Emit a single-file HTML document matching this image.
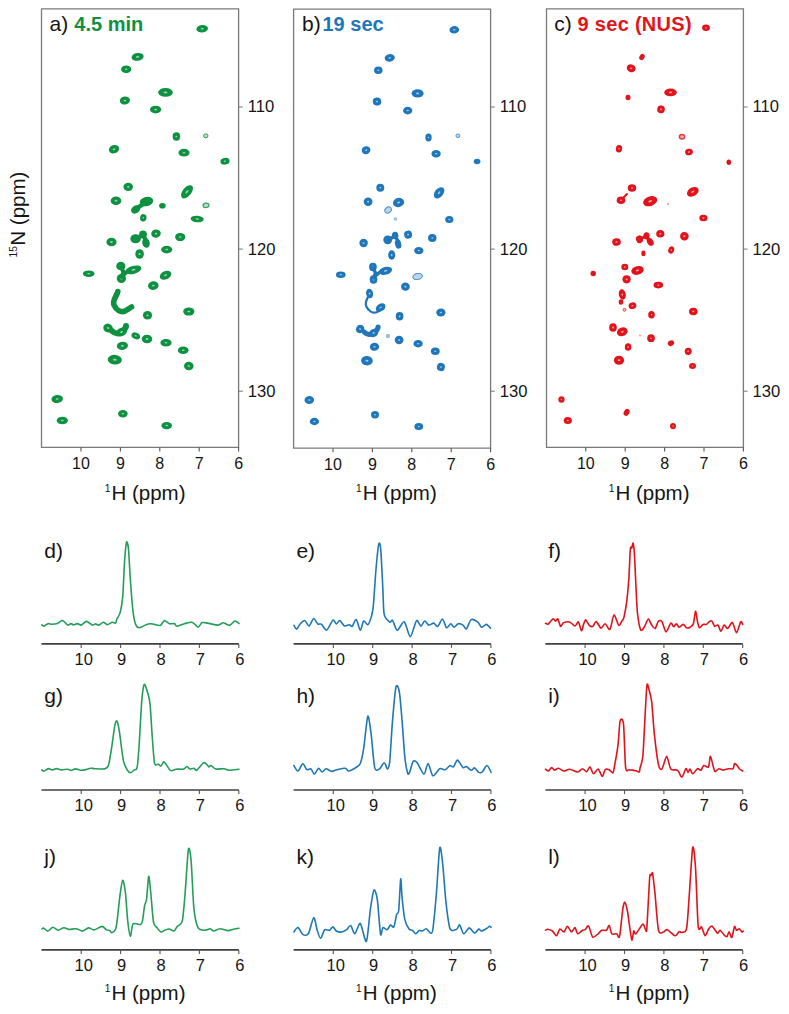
<!DOCTYPE html>
<html><head><meta charset="utf-8"><title>NMR figure</title>
<style>
html,body{margin:0;padding:0;background:#fff;}
body{width:789px;height:1014px;overflow:hidden;}
svg{display:block;font-family:"Liberation Sans", sans-serif;}

</style></head><body>
<svg width="789" height="1014" viewBox="0 0 789 1014">
<rect width="789" height="1014" fill="#fff"/>
<g fill="#151515">
<g>
<ellipse cx="202.2" cy="28.8" rx="5.80" ry="3.80" transform="rotate(-5 202.2 28.8)" fill="#0e9140"/>
<ellipse cx="202.2" cy="28.8" rx="1.54" ry="0.77" transform="rotate(-5 202.2 28.8)" fill="#fff" fill-opacity="0.6"/>
<ellipse cx="137.6" cy="56.9" rx="6.10" ry="3.90" transform="rotate(-8 137.6 56.9)" fill="#0e9140"/>
<ellipse cx="137.6" cy="56.9" rx="1.62" ry="0.79" transform="rotate(-8 137.6 56.9)" fill="#fff" fill-opacity="0.6"/>
<ellipse cx="126.2" cy="69.3" rx="5.10" ry="3.90" transform="rotate(0 126.2 69.3)" fill="#0e9140"/>
<ellipse cx="126.2" cy="69.3" rx="1.34" ry="0.79" transform="rotate(0 126.2 69.3)" fill="#fff" fill-opacity="0.6"/>
<ellipse cx="165.5" cy="92.4" rx="7.30" ry="4.30" transform="rotate(0 165.5 92.4)" fill="#0e9140"/>
<ellipse cx="165.5" cy="92.4" rx="1.96" ry="0.88" transform="rotate(0 165.5 92.4)" fill="#fff" fill-opacity="0.6"/>
<ellipse cx="124.9" cy="100.5" rx="5.10" ry="4.10" transform="rotate(-5 124.9 100.5)" fill="#0e9140"/>
<ellipse cx="124.9" cy="100.5" rx="1.34" ry="0.84" transform="rotate(-5 124.9 100.5)" fill="#fff" fill-opacity="0.6"/>
<ellipse cx="155.6" cy="109.6" rx="5.60" ry="3.90" transform="rotate(0 155.6 109.6)" fill="#0e9140"/>
<ellipse cx="155.6" cy="109.6" rx="1.48" ry="0.79" transform="rotate(0 155.6 109.6)" fill="#fff" fill-opacity="0.6"/>
<ellipse cx="176.4" cy="136.5" rx="3.80" ry="4.20" transform="rotate(0 176.4 136.5)" fill="#0e9140"/>
<ellipse cx="176.4" cy="136.5" rx="0.98" ry="0.86" transform="rotate(0 176.4 136.5)" fill="#fff" fill-opacity="0.6"/>
<ellipse cx="205.8" cy="135.8" rx="2.20" ry="2.00" transform="rotate(0 205.8 135.8)" fill="#0e9140" fill-opacity="0.3" stroke="#0e9140" stroke-width="1.0" stroke-opacity="0.8"/>
<ellipse cx="184.0" cy="152.7" rx="5.60" ry="3.90" transform="rotate(0 184.0 152.7)" fill="#0e9140"/>
<ellipse cx="184.0" cy="152.7" rx="1.48" ry="0.79" transform="rotate(0 184.0 152.7)" fill="#fff" fill-opacity="0.6"/>
<ellipse cx="114.0" cy="149.2" rx="5.30" ry="4.10" transform="rotate(-20 114.0 149.2)" fill="#0e9140"/>
<ellipse cx="114.0" cy="149.2" rx="1.40" ry="0.84" transform="rotate(-20 114.0 149.2)" fill="#fff" fill-opacity="0.6"/>
<ellipse cx="225.0" cy="161.2" rx="4.60" ry="3.30" transform="rotate(-10 225.0 161.2)" fill="#0e9140"/>
<ellipse cx="225.0" cy="161.2" rx="1.20" ry="0.66" transform="rotate(-10 225.0 161.2)" fill="#fff" fill-opacity="0.6"/>
<ellipse cx="128.2" cy="186.8" rx="4.80" ry="4.10" transform="rotate(0 128.2 186.8)" fill="#0e9140"/>
<ellipse cx="128.2" cy="186.8" rx="1.26" ry="0.84" transform="rotate(0 128.2 186.8)" fill="#fff" fill-opacity="0.6"/>
<ellipse cx="187.0" cy="191.8" rx="7.80" ry="4.30" transform="rotate(-50 187.0 191.8)" fill="#0e9140"/>
<ellipse cx="187.0" cy="191.8" rx="2.10" ry="0.88" transform="rotate(-50 187.0 191.8)" fill="#fff" fill-opacity="0.6"/>
<ellipse cx="116.0" cy="200.7" rx="5.30" ry="4.30" transform="rotate(0 116.0 200.7)" fill="#0e9140"/>
<ellipse cx="116.0" cy="200.7" rx="1.40" ry="0.88" transform="rotate(0 116.0 200.7)" fill="#fff" fill-opacity="0.6"/>
<ellipse cx="146.5" cy="201.5" rx="6.80" ry="4.70" transform="rotate(-12 146.5 201.5)" fill="#0e9140"/>
<ellipse cx="146.5" cy="201.5" rx="1.82" ry="0.97" transform="rotate(-12 146.5 201.5)" fill="#fff" fill-opacity="0.6"/>
<ellipse cx="135.6" cy="209.5" rx="4.90" ry="3.80" transform="rotate(-35 135.6 209.5)" fill="#0e9140"/>
<ellipse cx="135.6" cy="209.5" rx="1.29" ry="0.77" transform="rotate(-35 135.6 209.5)" fill="#fff" fill-opacity="0.6"/>
<path d="M136,209 L146,202" transform="translate(0.0,0)" fill="none" stroke="#0e9140" stroke-width="4.5" stroke-linecap="round" stroke-linejoin="round"/>
<ellipse cx="162.4" cy="205.8" rx="3.30" ry="2.80" transform="rotate(0 162.4 205.8)" fill="#0e9140"/>
<ellipse cx="206.0" cy="205.3" rx="3.00" ry="2.20" transform="rotate(-10 206.0 205.3)" fill="#0e9140" fill-opacity="0.3" stroke="#0e9140" stroke-width="1.2" stroke-opacity="0.8"/>
<ellipse cx="143.3" cy="217.8" rx="3.20" ry="3.70" transform="rotate(10 143.3 217.8)" fill="#0e9140"/>
<ellipse cx="143.3" cy="217.8" rx="0.81" ry="0.75" transform="rotate(10 143.3 217.8)" fill="#fff" fill-opacity="0.6"/>
<ellipse cx="197.2" cy="219.0" rx="6.60" ry="3.30" transform="rotate(5 197.2 219.0)" fill="#0e9140"/>
<ellipse cx="197.2" cy="219.0" rx="1.76" ry="0.66" transform="rotate(5 197.2 219.0)" fill="#fff" fill-opacity="0.6"/>
<ellipse cx="111.5" cy="242.0" rx="5.10" ry="4.30" transform="rotate(0 111.5 242.0)" fill="#0e9140"/>
<ellipse cx="111.5" cy="242.0" rx="1.34" ry="0.88" transform="rotate(0 111.5 242.0)" fill="#fff" fill-opacity="0.6"/>
<ellipse cx="135.6" cy="238.8" rx="5.30" ry="4.50" transform="rotate(0 135.6 238.8)" fill="#0e9140"/>
<ellipse cx="135.6" cy="238.8" rx="1.40" ry="0.92" transform="rotate(0 135.6 238.8)" fill="#fff" fill-opacity="0.6"/>
<ellipse cx="143.0" cy="234.5" rx="3.90" ry="3.90" transform="rotate(0 143.0 234.5)" fill="#0e9140"/>
<ellipse cx="143.0" cy="234.5" rx="1.01" ry="0.79" transform="rotate(0 143.0 234.5)" fill="#fff" fill-opacity="0.6"/>
<ellipse cx="146.0" cy="243.0" rx="3.70" ry="4.90" transform="rotate(-15 146.0 243.0)" fill="#0e9140"/>
<ellipse cx="146.0" cy="243.0" rx="0.95" ry="1.01" transform="rotate(-15 146.0 243.0)" fill="#fff" fill-opacity="0.6"/>
<path d="M136,239 L143,235 L146.5,241 L145.5,245" transform="translate(0.0,0)" fill="none" stroke="#0e9140" stroke-width="4.0" stroke-linecap="round" stroke-linejoin="round"/>
<ellipse cx="156.0" cy="233.6" rx="4.80" ry="4.10" transform="rotate(-10 156.0 233.6)" fill="#0e9140"/>
<ellipse cx="156.0" cy="233.6" rx="1.26" ry="0.84" transform="rotate(-10 156.0 233.6)" fill="#fff" fill-opacity="0.6"/>
<ellipse cx="180.2" cy="237.0" rx="5.10" ry="4.10" transform="rotate(0 180.2 237.0)" fill="#0e9140"/>
<ellipse cx="180.2" cy="237.0" rx="1.34" ry="0.84" transform="rotate(0 180.2 237.0)" fill="#fff" fill-opacity="0.6"/>
<ellipse cx="139.6" cy="254.0" rx="4.30" ry="4.80" transform="rotate(0 139.6 254.0)" fill="#0e9140"/>
<ellipse cx="139.6" cy="254.0" rx="1.12" ry="0.99" transform="rotate(0 139.6 254.0)" fill="#fff" fill-opacity="0.6"/>
<ellipse cx="166.7" cy="249.6" rx="5.60" ry="3.80" transform="rotate(0 166.7 249.6)" fill="#0e9140"/>
<ellipse cx="166.7" cy="249.6" rx="1.48" ry="0.77" transform="rotate(0 166.7 249.6)" fill="#fff" fill-opacity="0.6"/>
<ellipse cx="120.8" cy="266.0" rx="4.60" ry="4.30" transform="rotate(0 120.8 266.0)" fill="#0e9140"/>
<ellipse cx="120.8" cy="266.0" rx="1.20" ry="0.88" transform="rotate(0 120.8 266.0)" fill="#fff" fill-opacity="0.6"/>
<ellipse cx="133.5" cy="269.8" rx="8.10" ry="4.00" transform="rotate(-15 133.5 269.8)" fill="#0e9140"/>
<ellipse cx="133.5" cy="269.8" rx="2.18" ry="0.81" transform="rotate(-15 133.5 269.8)" fill="#fff" fill-opacity="0.6"/>
<ellipse cx="121.4" cy="278.5" rx="4.60" ry="4.50" transform="rotate(0 121.4 278.5)" fill="#0e9140"/>
<ellipse cx="121.4" cy="278.5" rx="1.20" ry="0.92" transform="rotate(0 121.4 278.5)" fill="#fff" fill-opacity="0.6"/>
<path d="M122,276 L128,271" transform="translate(0.0,0)" fill="none" stroke="#0e9140" stroke-width="4.0" stroke-linecap="round" stroke-linejoin="round"/>
<path d="M121,267 L123.5,272 L121.5,277" transform="translate(0.0,0)" fill="none" stroke="#0e9140" stroke-width="4.0" stroke-linecap="round" stroke-linejoin="round"/>
<ellipse cx="88.7" cy="273.7" rx="5.80" ry="3.30" transform="rotate(0 88.7 273.7)" fill="#0e9140"/>
<ellipse cx="88.7" cy="273.7" rx="1.54" ry="0.66" transform="rotate(0 88.7 273.7)" fill="#fff" fill-opacity="0.6"/>
<ellipse cx="165.5" cy="275.2" rx="6.10" ry="4.10" transform="rotate(-25 165.5 275.2)" fill="#0e9140"/>
<ellipse cx="165.5" cy="275.2" rx="1.62" ry="0.84" transform="rotate(-25 165.5 275.2)" fill="#fff" fill-opacity="0.6"/>
<ellipse cx="153.3" cy="285.6" rx="5.30" ry="4.30" transform="rotate(-10 153.3 285.6)" fill="#0e9140"/>
<ellipse cx="153.3" cy="285.6" rx="1.40" ry="0.88" transform="rotate(-10 153.3 285.6)" fill="#fff" fill-opacity="0.6"/>
<path d="M117.8,291.5 C117,296 112,300 114,305 C116,310 121,313 125,311 C128,309 130,308 131.5,307" transform="translate(0.0,0)" fill="none" stroke="#0e9140" stroke-width="5.6" stroke-linecap="round" stroke-linejoin="round"/>
<ellipse cx="147.5" cy="315.3" rx="4.60" ry="4.30" transform="rotate(0 147.5 315.3)" fill="#0e9140"/>
<ellipse cx="147.5" cy="315.3" rx="1.20" ry="0.88" transform="rotate(0 147.5 315.3)" fill="#fff" fill-opacity="0.6"/>
<ellipse cx="188.8" cy="311.5" rx="5.60" ry="4.10" transform="rotate(0 188.8 311.5)" fill="#0e9140"/>
<ellipse cx="188.8" cy="311.5" rx="1.48" ry="0.84" transform="rotate(0 188.8 311.5)" fill="#fff" fill-opacity="0.6"/>
<ellipse cx="108.0" cy="328.0" rx="4.80" ry="4.30" transform="rotate(20 108.0 328.0)" fill="#0e9140"/>
<ellipse cx="108.0" cy="328.0" rx="1.26" ry="0.88" transform="rotate(20 108.0 328.0)" fill="#fff" fill-opacity="0.6"/>
<path d="M112,331 C115,334 119,334 122,332 C124,330 126,328 126,326" transform="translate(0.0,0)" fill="none" stroke="#0e9140" stroke-width="6.0" stroke-linecap="round" stroke-linejoin="round"/>
<ellipse cx="121.5" cy="332.0" rx="5.80" ry="4.10" transform="rotate(-25 121.5 332.0)" fill="#0e9140"/>
<ellipse cx="121.5" cy="332.0" rx="1.54" ry="0.84" transform="rotate(-25 121.5 332.0)" fill="#fff" fill-opacity="0.6"/>
<ellipse cx="135.8" cy="335.8" rx="4.50" ry="3.20" transform="rotate(25 135.8 335.8)" fill="#0e9140"/>
<ellipse cx="135.8" cy="335.8" rx="1.18" ry="0.64" transform="rotate(25 135.8 335.8)" fill="#fff" fill-opacity="0.6"/>
<ellipse cx="147.0" cy="339.0" rx="5.30" ry="4.30" transform="rotate(0 147.0 339.0)" fill="#0e9140"/>
<ellipse cx="147.0" cy="339.0" rx="1.40" ry="0.88" transform="rotate(0 147.0 339.0)" fill="#fff" fill-opacity="0.6"/>
<ellipse cx="166.0" cy="342.7" rx="5.60" ry="3.80" transform="rotate(0 166.0 342.7)" fill="#0e9140"/>
<ellipse cx="166.0" cy="342.7" rx="1.48" ry="0.77" transform="rotate(0 166.0 342.7)" fill="#fff" fill-opacity="0.6"/>
<ellipse cx="183.2" cy="350.3" rx="5.30" ry="3.80" transform="rotate(0 183.2 350.3)" fill="#0e9140"/>
<ellipse cx="183.2" cy="350.3" rx="1.40" ry="0.77" transform="rotate(0 183.2 350.3)" fill="#fff" fill-opacity="0.6"/>
<ellipse cx="122.4" cy="345.8" rx="5.60" ry="4.10" transform="rotate(-5 122.4 345.8)" fill="#0e9140"/>
<ellipse cx="122.4" cy="345.8" rx="1.48" ry="0.84" transform="rotate(-5 122.4 345.8)" fill="#fff" fill-opacity="0.6"/>
<ellipse cx="114.8" cy="359.7" rx="7.10" ry="4.80" transform="rotate(5 114.8 359.7)" fill="#0e9140"/>
<ellipse cx="114.8" cy="359.7" rx="1.90" ry="0.99" transform="rotate(5 114.8 359.7)" fill="#fff" fill-opacity="0.6"/>
<ellipse cx="188.8" cy="366.0" rx="4.80" ry="4.30" transform="rotate(10 188.8 366.0)" fill="#0e9140"/>
<ellipse cx="188.8" cy="366.0" rx="1.26" ry="0.88" transform="rotate(10 188.8 366.0)" fill="#fff" fill-opacity="0.6"/>
<ellipse cx="57.2" cy="399.0" rx="5.80" ry="4.10" transform="rotate(-5 57.2 399.0)" fill="#0e9140"/>
<ellipse cx="57.2" cy="399.0" rx="1.54" ry="0.84" transform="rotate(-5 57.2 399.0)" fill="#fff" fill-opacity="0.6"/>
<ellipse cx="62.3" cy="420.5" rx="5.60" ry="3.80" transform="rotate(0 62.3 420.5)" fill="#0e9140"/>
<ellipse cx="62.3" cy="420.5" rx="1.48" ry="0.77" transform="rotate(0 62.3 420.5)" fill="#fff" fill-opacity="0.6"/>
<ellipse cx="122.9" cy="413.7" rx="4.80" ry="3.80" transform="rotate(0 122.9 413.7)" fill="#0e9140"/>
<ellipse cx="122.9" cy="413.7" rx="1.26" ry="0.77" transform="rotate(0 122.9 413.7)" fill="#fff" fill-opacity="0.6"/>
<ellipse cx="166.7" cy="425.6" rx="5.30" ry="3.60" transform="rotate(0 166.7 425.6)" fill="#0e9140"/>
<ellipse cx="166.7" cy="425.6" rx="1.40" ry="0.73" transform="rotate(0 166.7 425.6)" fill="#fff" fill-opacity="0.6"/>
<path d="M41.5,8.8 H238.6 V447.4 H41.5 Z" fill="none" stroke="#7a7a7a" stroke-width="1.3"/>
<line x1="238.6" y1="107.0" x2="242.79999999999998" y2="107.0" stroke="#666" stroke-width="0.9"/>
<text x="247.79999999999998" y="112.4" font-size="16.6">110</text>
<line x1="238.6" y1="249.1" x2="242.79999999999998" y2="249.1" stroke="#666" stroke-width="0.9"/>
<text x="247.79999999999998" y="254.5" font-size="16.6">120</text>
<line x1="238.6" y1="391.2" x2="242.79999999999998" y2="391.2" stroke="#666" stroke-width="0.9"/>
<text x="247.79999999999998" y="396.59999999999997" font-size="16.6">130</text>
<line x1="81.0" y1="447.4" x2="81.0" y2="451.4" stroke="#555" stroke-width="1.1"/>
<text x="81.0" y="468.7" font-size="16" text-anchor="middle">10</text>
<line x1="120.4" y1="447.4" x2="120.4" y2="451.4" stroke="#555" stroke-width="1.1"/>
<text x="120.4" y="468.7" font-size="16" text-anchor="middle">9</text>
<line x1="159.8" y1="447.4" x2="159.8" y2="451.4" stroke="#555" stroke-width="1.1"/>
<text x="159.8" y="468.7" font-size="16" text-anchor="middle">8</text>
<line x1="199.2" y1="447.4" x2="199.2" y2="451.4" stroke="#555" stroke-width="1.1"/>
<text x="199.2" y="468.7" font-size="16" text-anchor="middle">7</text>
<line x1="238.6" y1="447.4" x2="238.6" y2="451.4" stroke="#555" stroke-width="1.1"/>
<text x="238.6" y="468.7" font-size="16" text-anchor="middle">6</text>
</g>
<g>
<ellipse cx="454.3" cy="29.8" rx="4.81" ry="3.69" transform="rotate(-5 454.3 29.8)" fill="#1f76b9"/>
<ellipse cx="454.3" cy="29.8" rx="1.26" ry="0.75" transform="rotate(-5 454.3 29.8)" fill="#fff" fill-opacity="0.6"/>
<ellipse cx="389.7" cy="57.9" rx="5.06" ry="3.79" transform="rotate(-8 389.7 57.9)" fill="#1f76b9"/>
<ellipse cx="389.7" cy="57.9" rx="1.33" ry="0.77" transform="rotate(-8 389.7 57.9)" fill="#fff" fill-opacity="0.6"/>
<ellipse cx="378.3" cy="70.3" rx="4.24" ry="3.79" transform="rotate(0 378.3 70.3)" fill="#1f76b9"/>
<ellipse cx="378.3" cy="70.3" rx="1.10" ry="0.77" transform="rotate(0 378.3 70.3)" fill="#fff" fill-opacity="0.6"/>
<ellipse cx="417.6" cy="93.4" rx="6.04" ry="4.18" transform="rotate(0 417.6 93.4)" fill="#1f76b9"/>
<ellipse cx="417.6" cy="93.4" rx="1.61" ry="0.85" transform="rotate(0 417.6 93.4)" fill="#fff" fill-opacity="0.6"/>
<ellipse cx="377.0" cy="101.5" rx="4.24" ry="3.99" transform="rotate(-5 377.0 101.5)" fill="#1f76b9"/>
<ellipse cx="377.0" cy="101.5" rx="1.10" ry="0.81" transform="rotate(-5 377.0 101.5)" fill="#fff" fill-opacity="0.6"/>
<ellipse cx="407.7" cy="110.6" rx="4.65" ry="3.79" transform="rotate(0 407.7 110.6)" fill="#1f76b9"/>
<ellipse cx="407.7" cy="110.6" rx="1.22" ry="0.77" transform="rotate(0 407.7 110.6)" fill="#fff" fill-opacity="0.6"/>
<ellipse cx="428.5" cy="137.5" rx="3.17" ry="4.08" transform="rotate(0 428.5 137.5)" fill="#1f76b9"/>
<ellipse cx="428.5" cy="137.5" rx="0.80" ry="0.83" transform="rotate(0 428.5 137.5)" fill="#fff" fill-opacity="0.6"/>
<ellipse cx="436.1" cy="153.7" rx="4.65" ry="3.79" transform="rotate(0 436.1 153.7)" fill="#1f76b9"/>
<ellipse cx="436.1" cy="153.7" rx="1.22" ry="0.77" transform="rotate(0 436.1 153.7)" fill="#fff" fill-opacity="0.6"/>
<ellipse cx="366.1" cy="150.2" rx="4.40" ry="3.99" transform="rotate(-20 366.1 150.2)" fill="#1f76b9"/>
<ellipse cx="366.1" cy="150.2" rx="1.15" ry="0.81" transform="rotate(-20 366.1 150.2)" fill="#fff" fill-opacity="0.6"/>
<ellipse cx="380.3" cy="187.8" rx="3.99" ry="3.99" transform="rotate(0 380.3 187.8)" fill="#1f76b9"/>
<ellipse cx="380.3" cy="187.8" rx="1.03" ry="0.81" transform="rotate(0 380.3 187.8)" fill="#fff" fill-opacity="0.6"/>
<ellipse cx="439.1" cy="192.8" rx="6.45" ry="4.18" transform="rotate(-50 439.1 192.8)" fill="#1f76b9"/>
<ellipse cx="439.1" cy="192.8" rx="1.72" ry="0.85" transform="rotate(-50 439.1 192.8)" fill="#fff" fill-opacity="0.6"/>
<ellipse cx="368.1" cy="201.7" rx="4.40" ry="4.18" transform="rotate(0 368.1 201.7)" fill="#1f76b9"/>
<ellipse cx="368.1" cy="201.7" rx="1.15" ry="0.85" transform="rotate(0 368.1 201.7)" fill="#fff" fill-opacity="0.6"/>
<ellipse cx="398.6" cy="202.5" rx="5.63" ry="4.57" transform="rotate(-12 398.6 202.5)" fill="#1f76b9"/>
<ellipse cx="398.6" cy="202.5" rx="1.49" ry="0.94" transform="rotate(-12 398.6 202.5)" fill="#fff" fill-opacity="0.6"/>
<ellipse cx="363.6" cy="243.0" rx="4.24" ry="4.18" transform="rotate(0 363.6 243.0)" fill="#1f76b9"/>
<ellipse cx="363.6" cy="243.0" rx="1.10" ry="0.85" transform="rotate(0 363.6 243.0)" fill="#fff" fill-opacity="0.6"/>
<ellipse cx="387.7" cy="239.8" rx="4.40" ry="4.37" transform="rotate(0 387.7 239.8)" fill="#1f76b9"/>
<ellipse cx="387.7" cy="239.8" rx="1.15" ry="0.90" transform="rotate(0 387.7 239.8)" fill="#fff" fill-opacity="0.6"/>
<ellipse cx="395.1" cy="235.5" rx="3.25" ry="3.79" transform="rotate(0 395.1 235.5)" fill="#1f76b9"/>
<ellipse cx="395.1" cy="235.5" rx="0.83" ry="0.77" transform="rotate(0 395.1 235.5)" fill="#fff" fill-opacity="0.6"/>
<ellipse cx="398.1" cy="244.0" rx="3.09" ry="4.76" transform="rotate(-15 398.1 244.0)" fill="#1f76b9"/>
<ellipse cx="398.1" cy="244.0" rx="0.78" ry="0.98" transform="rotate(-15 398.1 244.0)" fill="#fff" fill-opacity="0.6"/>
<path d="M136,239 L143,235 L146.5,241 L145.5,245" transform="translate(252.1,1.0)" fill="none" stroke="#1f76b9" stroke-width="3.4" stroke-linecap="round" stroke-linejoin="round"/>
<ellipse cx="408.1" cy="234.6" rx="3.99" ry="3.99" transform="rotate(-10 408.1 234.6)" fill="#1f76b9"/>
<ellipse cx="408.1" cy="234.6" rx="1.03" ry="0.81" transform="rotate(-10 408.1 234.6)" fill="#fff" fill-opacity="0.6"/>
<ellipse cx="432.3" cy="238.0" rx="4.24" ry="3.99" transform="rotate(0 432.3 238.0)" fill="#1f76b9"/>
<ellipse cx="432.3" cy="238.0" rx="1.10" ry="0.81" transform="rotate(0 432.3 238.0)" fill="#fff" fill-opacity="0.6"/>
<ellipse cx="391.7" cy="255.0" rx="3.58" ry="4.67" transform="rotate(0 391.7 255.0)" fill="#1f76b9"/>
<ellipse cx="391.7" cy="255.0" rx="0.92" ry="0.96" transform="rotate(0 391.7 255.0)" fill="#fff" fill-opacity="0.6"/>
<ellipse cx="418.8" cy="250.6" rx="4.65" ry="3.69" transform="rotate(0 418.8 250.6)" fill="#1f76b9"/>
<ellipse cx="418.8" cy="250.6" rx="1.22" ry="0.75" transform="rotate(0 418.8 250.6)" fill="#fff" fill-opacity="0.6"/>
<ellipse cx="372.9" cy="267.0" rx="3.83" ry="4.18" transform="rotate(0 372.9 267.0)" fill="#1f76b9"/>
<ellipse cx="372.9" cy="267.0" rx="0.99" ry="0.85" transform="rotate(0 372.9 267.0)" fill="#fff" fill-opacity="0.6"/>
<ellipse cx="385.6" cy="270.8" rx="6.70" ry="3.89" transform="rotate(-15 385.6 270.8)" fill="#1f76b9"/>
<ellipse cx="385.6" cy="270.8" rx="1.79" ry="0.79" transform="rotate(-15 385.6 270.8)" fill="#fff" fill-opacity="0.6"/>
<ellipse cx="373.5" cy="279.5" rx="3.83" ry="4.37" transform="rotate(0 373.5 279.5)" fill="#1f76b9"/>
<ellipse cx="373.5" cy="279.5" rx="0.99" ry="0.90" transform="rotate(0 373.5 279.5)" fill="#fff" fill-opacity="0.6"/>
<path d="M122,276 L128,271" transform="translate(252.1,1.0)" fill="none" stroke="#1f76b9" stroke-width="3.4" stroke-linecap="round" stroke-linejoin="round"/>
<path d="M121,267 L123.5,272 L121.5,277" transform="translate(252.1,1.0)" fill="none" stroke="#1f76b9" stroke-width="3.4" stroke-linecap="round" stroke-linejoin="round"/>
<ellipse cx="340.8" cy="274.7" rx="4.81" ry="3.21" transform="rotate(0 340.8 274.7)" fill="#1f76b9"/>
<ellipse cx="340.8" cy="274.7" rx="1.26" ry="0.64" transform="rotate(0 340.8 274.7)" fill="#fff" fill-opacity="0.6"/>
<ellipse cx="405.4" cy="286.6" rx="4.40" ry="4.18" transform="rotate(-10 405.4 286.6)" fill="#1f76b9"/>
<ellipse cx="405.4" cy="286.6" rx="1.15" ry="0.85" transform="rotate(-10 405.4 286.6)" fill="#fff" fill-opacity="0.6"/>
<path d="M117.8,291.5 C117,296 112,300 114,305 C116,310 121,313 125,311 C128,309 130,308 131.5,307" transform="translate(252.1,1.0)" fill="none" stroke="#1f76b9" stroke-width="2.2" stroke-linecap="round" stroke-linejoin="round"/>
<ellipse cx="399.6" cy="316.3" rx="3.83" ry="4.18" transform="rotate(0 399.6 316.3)" fill="#1f76b9"/>
<ellipse cx="399.6" cy="316.3" rx="0.99" ry="0.85" transform="rotate(0 399.6 316.3)" fill="#fff" fill-opacity="0.6"/>
<ellipse cx="440.9" cy="312.5" rx="4.65" ry="3.99" transform="rotate(0 440.9 312.5)" fill="#1f76b9"/>
<ellipse cx="440.9" cy="312.5" rx="1.22" ry="0.81" transform="rotate(0 440.9 312.5)" fill="#fff" fill-opacity="0.6"/>
<ellipse cx="360.1" cy="329.0" rx="3.99" ry="4.18" transform="rotate(20 360.1 329.0)" fill="#1f76b9"/>
<ellipse cx="360.1" cy="329.0" rx="1.03" ry="0.85" transform="rotate(20 360.1 329.0)" fill="#fff" fill-opacity="0.6"/>
<path d="M112,331 C115,334 119,334 122,332 C124,330 126,328 126,326" transform="translate(252.1,1.0)" fill="none" stroke="#1f76b9" stroke-width="5.1" stroke-linecap="round" stroke-linejoin="round"/>
<ellipse cx="373.6" cy="333.0" rx="4.81" ry="3.99" transform="rotate(-25 373.6 333.0)" fill="#1f76b9"/>
<ellipse cx="373.6" cy="333.0" rx="1.26" ry="0.81" transform="rotate(-25 373.6 333.0)" fill="#fff" fill-opacity="0.6"/>
<ellipse cx="399.1" cy="340.0" rx="4.40" ry="4.18" transform="rotate(0 399.1 340.0)" fill="#1f76b9"/>
<ellipse cx="399.1" cy="340.0" rx="1.15" ry="0.85" transform="rotate(0 399.1 340.0)" fill="#fff" fill-opacity="0.6"/>
<ellipse cx="418.1" cy="343.7" rx="4.65" ry="3.69" transform="rotate(0 418.1 343.7)" fill="#1f76b9"/>
<ellipse cx="418.1" cy="343.7" rx="1.22" ry="0.75" transform="rotate(0 418.1 343.7)" fill="#fff" fill-opacity="0.6"/>
<ellipse cx="435.3" cy="351.3" rx="4.40" ry="3.69" transform="rotate(0 435.3 351.3)" fill="#1f76b9"/>
<ellipse cx="435.3" cy="351.3" rx="1.15" ry="0.75" transform="rotate(0 435.3 351.3)" fill="#fff" fill-opacity="0.6"/>
<ellipse cx="374.5" cy="346.8" rx="4.65" ry="3.99" transform="rotate(-5 374.5 346.8)" fill="#1f76b9"/>
<ellipse cx="374.5" cy="346.8" rx="1.22" ry="0.81" transform="rotate(-5 374.5 346.8)" fill="#fff" fill-opacity="0.6"/>
<ellipse cx="366.9" cy="360.7" rx="5.88" ry="4.67" transform="rotate(5 366.9 360.7)" fill="#1f76b9"/>
<ellipse cx="366.9" cy="360.7" rx="1.56" ry="0.96" transform="rotate(5 366.9 360.7)" fill="#fff" fill-opacity="0.6"/>
<ellipse cx="440.9" cy="367.0" rx="3.99" ry="4.18" transform="rotate(10 440.9 367.0)" fill="#1f76b9"/>
<ellipse cx="440.9" cy="367.0" rx="1.03" ry="0.85" transform="rotate(10 440.9 367.0)" fill="#fff" fill-opacity="0.6"/>
<ellipse cx="309.3" cy="400.0" rx="4.81" ry="3.99" transform="rotate(-5 309.3 400.0)" fill="#1f76b9"/>
<ellipse cx="309.3" cy="400.0" rx="1.26" ry="0.81" transform="rotate(-5 309.3 400.0)" fill="#fff" fill-opacity="0.6"/>
<ellipse cx="314.4" cy="421.5" rx="4.65" ry="3.69" transform="rotate(0 314.4 421.5)" fill="#1f76b9"/>
<ellipse cx="314.4" cy="421.5" rx="1.22" ry="0.75" transform="rotate(0 314.4 421.5)" fill="#fff" fill-opacity="0.6"/>
<ellipse cx="375.0" cy="414.7" rx="3.99" ry="3.69" transform="rotate(0 375.0 414.7)" fill="#1f76b9"/>
<ellipse cx="375.0" cy="414.7" rx="1.03" ry="0.75" transform="rotate(0 375.0 414.7)" fill="#fff" fill-opacity="0.6"/>
<ellipse cx="418.8" cy="426.6" rx="4.40" ry="3.50" transform="rotate(0 418.8 426.6)" fill="#1f76b9"/>
<ellipse cx="418.8" cy="426.6" rx="1.15" ry="0.70" transform="rotate(0 418.8 426.6)" fill="#fff" fill-opacity="0.6"/>
<ellipse cx="457.9" cy="135.8" rx="2.00" ry="1.80" transform="rotate(0 457.9 135.8)" fill="#1f76b9" fill-opacity="0.3" stroke="#1f76b9" stroke-width="0.9" stroke-opacity="0.8"/>
<ellipse cx="388.1" cy="210.0" rx="3.50" ry="2.80" transform="rotate(-40 388.1 210.0)" fill="#1f76b9" fill-opacity="0.3" stroke="#1f76b9" stroke-width="1.0" stroke-opacity="0.8"/>
<circle cx="395.5" cy="219.0" r="1.8" fill="#1f76b9" fill-opacity="0.45"/>
<ellipse cx="417.6" cy="276.5" rx="4.80" ry="3.00" transform="rotate(-10 417.6 276.5)" fill="#1f76b9" fill-opacity="0.3" stroke="#1f76b9" stroke-width="1.0" stroke-opacity="0.8"/>
<circle cx="387.9" cy="336.0" r="2.2" fill="#1f76b9" fill-opacity="0.45"/>
<ellipse cx="449.3" cy="219.5" rx="4.10" ry="3.50" transform="rotate(0 449.3 219.5)" fill="#1f76b9"/>
<ellipse cx="449.3" cy="219.5" rx="1.06" ry="0.70" transform="rotate(0 449.3 219.5)" fill="#fff" fill-opacity="0.6"/>
<ellipse cx="477.1" cy="161.5" rx="3.30" ry="2.80" transform="rotate(0 477.1 161.5)" fill="#1f76b9"/>
<ellipse cx="369.6" cy="293.5" rx="3.50" ry="4.80" transform="rotate(-10 369.6 293.5)" fill="#1f76b9"/>
<ellipse cx="369.6" cy="293.5" rx="0.90" ry="0.99" transform="rotate(-10 369.6 293.5)" fill="#fff" fill-opacity="0.6"/>
<ellipse cx="380.6" cy="307.5" rx="5.30" ry="3.70" transform="rotate(-35 380.6 307.5)" fill="#1f76b9"/>
<ellipse cx="380.6" cy="307.5" rx="1.40" ry="0.75" transform="rotate(-35 380.6 307.5)" fill="#fff" fill-opacity="0.6"/>
<path d="M293.6,9.2 H490.6 V448.2 H293.6 Z" fill="none" stroke="#7a7a7a" stroke-width="1.3"/>
<line x1="490.6" y1="107.0" x2="494.8" y2="107.0" stroke="#666" stroke-width="0.9"/>
<text x="499.8" y="112.4" font-size="16.6">110</text>
<line x1="490.6" y1="249.1" x2="494.8" y2="249.1" stroke="#666" stroke-width="0.9"/>
<text x="499.8" y="254.5" font-size="16.6">120</text>
<line x1="490.6" y1="391.2" x2="494.8" y2="391.2" stroke="#666" stroke-width="0.9"/>
<text x="499.8" y="396.59999999999997" font-size="16.6">130</text>
<line x1="333.0" y1="448.2" x2="333.0" y2="452.2" stroke="#555" stroke-width="1.1"/>
<text x="333.0" y="469.5" font-size="16" text-anchor="middle">10</text>
<line x1="372.4" y1="448.2" x2="372.4" y2="452.2" stroke="#555" stroke-width="1.1"/>
<text x="372.4" y="469.5" font-size="16" text-anchor="middle">9</text>
<line x1="411.8" y1="448.2" x2="411.8" y2="452.2" stroke="#555" stroke-width="1.1"/>
<text x="411.8" y="469.5" font-size="16" text-anchor="middle">8</text>
<line x1="451.2" y1="448.2" x2="451.2" y2="452.2" stroke="#555" stroke-width="1.1"/>
<text x="451.2" y="469.5" font-size="16" text-anchor="middle">7</text>
<line x1="490.6" y1="448.2" x2="490.6" y2="452.2" stroke="#555" stroke-width="1.1"/>
<text x="490.6" y="469.5" font-size="16" text-anchor="middle">6</text>
</g>
<g>
<ellipse cx="706.0" cy="27.8" rx="3.90" ry="3.20" transform="rotate(0 706.0 27.8)" fill="#e1141c"/>
<ellipse cx="706.0" cy="27.8" rx="1.01" ry="0.64" transform="rotate(0 706.0 27.8)" fill="#fff" fill-opacity="0.6"/>
<ellipse cx="642.0" cy="57.0" rx="2.50" ry="3.30" transform="rotate(30 642.0 57.0)" fill="#e1141c"/>
<ellipse cx="631.2" cy="68.3" rx="4.50" ry="3.90" transform="rotate(20 631.2 68.3)" fill="#e1141c"/>
<ellipse cx="631.2" cy="68.3" rx="1.18" ry="0.79" transform="rotate(20 631.2 68.3)" fill="#fff" fill-opacity="0.6"/>
<ellipse cx="670.5" cy="92.4" rx="6.30" ry="3.90" transform="rotate(0 670.5 92.4)" fill="#e1141c"/>
<ellipse cx="670.5" cy="92.4" rx="1.68" ry="0.79" transform="rotate(0 670.5 92.4)" fill="#fff" fill-opacity="0.6"/>
<ellipse cx="628.0" cy="97.5" rx="2.50" ry="2.80" transform="rotate(0 628.0 97.5)" fill="#e1141c"/>
<ellipse cx="661.0" cy="109.4" rx="3.80" ry="3.90" transform="rotate(10 661.0 109.4)" fill="#e1141c"/>
<ellipse cx="661.0" cy="109.4" rx="0.98" ry="0.79" transform="rotate(10 661.0 109.4)" fill="#fff" fill-opacity="0.6"/>
<ellipse cx="682.0" cy="136.8" rx="2.60" ry="2.30" transform="rotate(0 682.0 136.8)" fill="#e1141c" fill-opacity="0.3" stroke="#e1141c" stroke-width="1.5" stroke-opacity="0.8"/>
<ellipse cx="619.0" cy="148.7" rx="3.10" ry="3.80" transform="rotate(10 619.0 148.7)" fill="#e1141c"/>
<ellipse cx="619.0" cy="148.7" rx="0.78" ry="0.77" transform="rotate(10 619.0 148.7)" fill="#fff" fill-opacity="0.6"/>
<ellipse cx="689.0" cy="152.0" rx="3.90" ry="3.30" transform="rotate(-10 689.0 152.0)" fill="#e1141c"/>
<ellipse cx="689.0" cy="152.0" rx="1.01" ry="0.66" transform="rotate(-10 689.0 152.0)" fill="#fff" fill-opacity="0.6"/>
<ellipse cx="728.8" cy="162.2" rx="2.30" ry="2.70" transform="rotate(0 728.8 162.2)" fill="#e1141c"/>
<ellipse cx="632.0" cy="188.0" rx="4.30" ry="3.80" transform="rotate(0 632.0 188.0)" fill="#e1141c"/>
<ellipse cx="632.0" cy="188.0" rx="1.12" ry="0.77" transform="rotate(0 632.0 188.0)" fill="#fff" fill-opacity="0.6"/>
<ellipse cx="692.8" cy="191.8" rx="6.30" ry="4.30" transform="rotate(-30 692.8 191.8)" fill="#e1141c"/>
<ellipse cx="692.8" cy="191.8" rx="1.68" ry="0.88" transform="rotate(-30 692.8 191.8)" fill="#fff" fill-opacity="0.6"/>
<ellipse cx="621.0" cy="200.2" rx="4.30" ry="3.80" transform="rotate(0 621.0 200.2)" fill="#e1141c"/>
<ellipse cx="621.0" cy="200.2" rx="1.12" ry="0.77" transform="rotate(0 621.0 200.2)" fill="#fff" fill-opacity="0.6"/>
<path d="M622,199 L627,194" transform="translate(0.0,0)" fill="none" stroke="#e1141c" stroke-width="2.0" stroke-linecap="round" stroke-linejoin="round"/>
<ellipse cx="650.2" cy="201.2" rx="7.30" ry="4.80" transform="rotate(-20 650.2 201.2)" fill="#e1141c"/>
<ellipse cx="650.2" cy="201.2" rx="1.96" ry="0.99" transform="rotate(-20 650.2 201.2)" fill="#fff" fill-opacity="0.6"/>
<circle cx="668.0" cy="204.0" r="1.0" fill="#e1141c" fill-opacity="0.45"/>
<ellipse cx="703.4" cy="218.0" rx="4.10" ry="3.30" transform="rotate(5 703.4 218.0)" fill="#e1141c"/>
<ellipse cx="703.4" cy="218.0" rx="1.06" ry="0.66" transform="rotate(5 703.4 218.0)" fill="#fff" fill-opacity="0.6"/>
<ellipse cx="616.5" cy="242.0" rx="4.30" ry="3.80" transform="rotate(-10 616.5 242.0)" fill="#e1141c"/>
<ellipse cx="616.5" cy="242.0" rx="1.12" ry="0.77" transform="rotate(-10 616.5 242.0)" fill="#fff" fill-opacity="0.6"/>
<ellipse cx="639.5" cy="239.3" rx="3.50" ry="3.90" transform="rotate(-20 639.5 239.3)" fill="#e1141c"/>
<ellipse cx="639.5" cy="239.3" rx="0.90" ry="0.79" transform="rotate(-20 639.5 239.3)" fill="#fff" fill-opacity="0.6"/>
<ellipse cx="646.5" cy="235.8" rx="3.10" ry="3.60" transform="rotate(0 646.5 235.8)" fill="#e1141c"/>
<ellipse cx="646.5" cy="235.8" rx="0.78" ry="0.73" transform="rotate(0 646.5 235.8)" fill="#fff" fill-opacity="0.6"/>
<ellipse cx="650.3" cy="242.0" rx="3.10" ry="4.10" transform="rotate(-30 650.3 242.0)" fill="#e1141c"/>
<ellipse cx="650.3" cy="242.0" rx="0.78" ry="0.84" transform="rotate(-30 650.3 242.0)" fill="#fff" fill-opacity="0.6"/>
<path d="M640,239 L646.5,236 L650,242" transform="translate(0.0,0)" fill="none" stroke="#e1141c" stroke-width="3.0" stroke-linecap="round" stroke-linejoin="round"/>
<ellipse cx="660.3" cy="233.7" rx="4.10" ry="3.80" transform="rotate(0 660.3 233.7)" fill="#e1141c"/>
<ellipse cx="660.3" cy="233.7" rx="1.06" ry="0.77" transform="rotate(0 660.3 233.7)" fill="#fff" fill-opacity="0.6"/>
<ellipse cx="684.4" cy="236.2" rx="4.30" ry="4.30" transform="rotate(-10 684.4 236.2)" fill="#e1141c"/>
<ellipse cx="684.4" cy="236.2" rx="1.12" ry="0.88" transform="rotate(-10 684.4 236.2)" fill="#fff" fill-opacity="0.6"/>
<ellipse cx="643.4" cy="253.4" rx="2.10" ry="2.90" transform="rotate(0 643.4 253.4)" fill="#e1141c"/>
<ellipse cx="671.2" cy="250.0" rx="2.90" ry="3.70" transform="rotate(20 671.2 250.0)" fill="#e1141c"/>
<ellipse cx="671.2" cy="250.0" rx="0.73" ry="0.75" transform="rotate(20 671.2 250.0)" fill="#fff" fill-opacity="0.6"/>
<ellipse cx="624.8" cy="267.0" rx="3.50" ry="3.30" transform="rotate(0 624.8 267.0)" fill="#e1141c"/>
<ellipse cx="624.8" cy="267.0" rx="0.90" ry="0.66" transform="rotate(0 624.8 267.0)" fill="#fff" fill-opacity="0.6"/>
<ellipse cx="637.5" cy="270.4" rx="6.30" ry="4.30" transform="rotate(-15 637.5 270.4)" fill="#e1141c"/>
<ellipse cx="637.5" cy="270.4" rx="1.68" ry="0.88" transform="rotate(-15 637.5 270.4)" fill="#fff" fill-opacity="0.6"/>
<ellipse cx="626.6" cy="279.3" rx="4.10" ry="4.10" transform="rotate(0 626.6 279.3)" fill="#e1141c"/>
<ellipse cx="626.6" cy="279.3" rx="1.06" ry="0.84" transform="rotate(0 626.6 279.3)" fill="#fff" fill-opacity="0.6"/>
<ellipse cx="593.2" cy="273.5" rx="2.70" ry="2.70" transform="rotate(0 593.2 273.5)" fill="#e1141c"/>
<ellipse cx="658.3" cy="285.1" rx="4.80" ry="3.30" transform="rotate(0 658.3 285.1)" fill="#e1141c"/>
<ellipse cx="658.3" cy="285.1" rx="1.26" ry="0.66" transform="rotate(0 658.3 285.1)" fill="#fff" fill-opacity="0.6"/>
<ellipse cx="622.3" cy="294.5" rx="3.50" ry="5.30" transform="rotate(-10 622.3 294.5)" fill="#e1141c"/>
<ellipse cx="622.3" cy="294.5" rx="0.90" ry="1.10" transform="rotate(-10 622.3 294.5)" fill="#fff" fill-opacity="0.6"/>
<ellipse cx="621.0" cy="302.0" rx="2.30" ry="2.80" transform="rotate(0 621.0 302.0)" fill="#e1141c"/>
<ellipse cx="632.5" cy="305.7" rx="3.90" ry="3.30" transform="rotate(-10 632.5 305.7)" fill="#e1141c"/>
<ellipse cx="632.5" cy="305.7" rx="1.01" ry="0.66" transform="rotate(-10 632.5 305.7)" fill="#fff" fill-opacity="0.6"/>
<ellipse cx="624.5" cy="309.8" rx="1.50" ry="1.50" transform="rotate(0 624.5 309.8)" fill="#e1141c" fill-opacity="0.3" stroke="#e1141c" stroke-width="0.8" stroke-opacity="0.8"/>
<ellipse cx="651.5" cy="314.8" rx="3.30" ry="3.80" transform="rotate(0 651.5 314.8)" fill="#e1141c"/>
<ellipse cx="651.5" cy="314.8" rx="0.84" ry="0.77" transform="rotate(0 651.5 314.8)" fill="#fff" fill-opacity="0.6"/>
<ellipse cx="693.3" cy="311.5" rx="4.30" ry="3.80" transform="rotate(0 693.3 311.5)" fill="#e1141c"/>
<ellipse cx="693.3" cy="311.5" rx="1.12" ry="0.77" transform="rotate(0 693.3 311.5)" fill="#fff" fill-opacity="0.6"/>
<ellipse cx="613.0" cy="327.5" rx="3.80" ry="4.30" transform="rotate(0 613.0 327.5)" fill="#e1141c"/>
<ellipse cx="613.0" cy="327.5" rx="0.98" ry="0.88" transform="rotate(0 613.0 327.5)" fill="#fff" fill-opacity="0.6"/>
<ellipse cx="622.3" cy="331.8" rx="5.50" ry="4.30" transform="rotate(-20 622.3 331.8)" fill="#e1141c"/>
<ellipse cx="622.3" cy="331.8" rx="1.46" ry="0.88" transform="rotate(-20 622.3 331.8)" fill="#fff" fill-opacity="0.6"/>
<circle cx="640.0" cy="335.5" r="1.0" fill="#e1141c" fill-opacity="0.45"/>
<ellipse cx="651.0" cy="338.2" rx="3.80" ry="3.90" transform="rotate(0 651.0 338.2)" fill="#e1141c"/>
<ellipse cx="651.0" cy="338.2" rx="0.98" ry="0.79" transform="rotate(0 651.0 338.2)" fill="#fff" fill-opacity="0.6"/>
<ellipse cx="671.0" cy="343.2" rx="3.30" ry="2.70" transform="rotate(-30 671.0 343.2)" fill="#e1141c"/>
<ellipse cx="688.2" cy="351.3" rx="3.50" ry="3.60" transform="rotate(0 688.2 351.3)" fill="#e1141c"/>
<ellipse cx="688.2" cy="351.3" rx="0.90" ry="0.73" transform="rotate(0 688.2 351.3)" fill="#fff" fill-opacity="0.6"/>
<ellipse cx="628.1" cy="347.0" rx="3.30" ry="3.80" transform="rotate(0 628.1 347.0)" fill="#e1141c"/>
<ellipse cx="628.1" cy="347.0" rx="0.84" ry="0.77" transform="rotate(0 628.1 347.0)" fill="#fff" fill-opacity="0.6"/>
<ellipse cx="619.0" cy="360.2" rx="5.10" ry="4.50" transform="rotate(0 619.0 360.2)" fill="#e1141c"/>
<ellipse cx="619.0" cy="360.2" rx="1.34" ry="0.92" transform="rotate(0 619.0 360.2)" fill="#fff" fill-opacity="0.6"/>
<ellipse cx="692.5" cy="366.0" rx="3.50" ry="3.00" transform="rotate(0 692.5 366.0)" fill="#e1141c"/>
<ellipse cx="692.5" cy="366.0" rx="0.90" ry="0.59" transform="rotate(0 692.5 366.0)" fill="#fff" fill-opacity="0.6"/>
<ellipse cx="561.5" cy="399.5" rx="3.10" ry="3.30" transform="rotate(0 561.5 399.5)" fill="#e1141c"/>
<ellipse cx="561.5" cy="399.5" rx="0.78" ry="0.66" transform="rotate(0 561.5 399.5)" fill="#fff" fill-opacity="0.6"/>
<ellipse cx="567.8" cy="420.5" rx="4.10" ry="3.60" transform="rotate(0 567.8 420.5)" fill="#e1141c"/>
<ellipse cx="567.8" cy="420.5" rx="1.06" ry="0.73" transform="rotate(0 567.8 420.5)" fill="#fff" fill-opacity="0.6"/>
<ellipse cx="626.6" cy="412.4" rx="2.70" ry="3.70" transform="rotate(30 626.6 412.4)" fill="#e1141c"/>
<ellipse cx="673.0" cy="426.1" rx="3.00" ry="3.10" transform="rotate(0 673.0 426.1)" fill="#e1141c"/>
<ellipse cx="673.0" cy="426.1" rx="0.76" ry="0.62" transform="rotate(0 673.0 426.1)" fill="#fff" fill-opacity="0.6"/>
<path d="M546.5,8.9 H743.4 V447.4 H546.5 Z" fill="none" stroke="#7a7a7a" stroke-width="1.3"/>
<line x1="743.4" y1="107.0" x2="747.6" y2="107.0" stroke="#666" stroke-width="0.9"/>
<text x="752.6" y="112.4" font-size="16.6">110</text>
<line x1="743.4" y1="249.1" x2="747.6" y2="249.1" stroke="#666" stroke-width="0.9"/>
<text x="752.6" y="254.5" font-size="16.6">120</text>
<line x1="743.4" y1="391.2" x2="747.6" y2="391.2" stroke="#666" stroke-width="0.9"/>
<text x="752.6" y="396.59999999999997" font-size="16.6">130</text>
<line x1="585.8" y1="447.4" x2="585.8" y2="451.4" stroke="#555" stroke-width="1.1"/>
<text x="585.8" y="468.7" font-size="16" text-anchor="middle">10</text>
<line x1="625.2" y1="447.4" x2="625.2" y2="451.4" stroke="#555" stroke-width="1.1"/>
<text x="625.2" y="468.7" font-size="16" text-anchor="middle">9</text>
<line x1="664.6" y1="447.4" x2="664.6" y2="451.4" stroke="#555" stroke-width="1.1"/>
<text x="664.6" y="468.7" font-size="16" text-anchor="middle">8</text>
<line x1="704.0" y1="447.4" x2="704.0" y2="451.4" stroke="#555" stroke-width="1.1"/>
<text x="704.0" y="468.7" font-size="16" text-anchor="middle">7</text>
<line x1="743.4" y1="447.4" x2="743.4" y2="451.4" stroke="#555" stroke-width="1.1"/>
<text x="743.4" y="468.7" font-size="16" text-anchor="middle">6</text>
</g>
<text x="49.5" y="30.8" font-size="21">a)</text>
<text x="74.3" y="30.8" font-size="20" font-weight="bold" fill="#0e9140">4.5 min</text>
<text x="302" y="30.8" font-size="21">b)</text>
<text x="322.5" y="30.8" font-size="20" font-weight="bold" fill="#1f76b9">19 sec</text>
<text x="554.2" y="30.8" font-size="21">c)</text>
<text x="577.5" y="30.8" font-size="20" letter-spacing="0.3" font-weight="bold" fill="#e1141c">9 sec (NUS)</text>
<text transform="translate(24.8,257.5) rotate(-90)" font-size="20.5"><tspan font-size="10.2" dy="-7.4">15</tspan><tspan dx="0.5" dy="7.4">N (ppm)</tspan></text>
<text x="104.8" y="500.0" font-size="20.5"><tspan font-size="10.2" dy="-7.6">1</tspan><tspan dx="1.0" dy="7.6">H (ppm)</tspan></text>
<text x="356.0" y="500.0" font-size="20.5"><tspan font-size="10.2" dy="-7.6">1</tspan><tspan dx="1.0" dy="7.6">H (ppm)</tspan></text>
<text x="608.8" y="500.0" font-size="20.5"><tspan font-size="10.2" dy="-7.6">1</tspan><tspan dx="1.0" dy="7.6">H (ppm)</tspan></text>
<path d="M41.9,624.9 C42.1,625.1 43.0,626.3 43.8,626.1 C44.6,625.9 47.4,623.8 48.3,623.6 C49.2,623.4 49.7,624.2 50.9,624.2 C52.1,624.2 56.0,624.1 57.4,623.6 C58.8,623.1 61.1,620.9 61.9,620.6 C62.7,620.3 63.1,620.8 63.9,621.4 C64.7,622.0 66.8,624.8 67.7,625.1 C68.6,625.4 70.2,623.6 71.0,623.6 C71.8,623.6 72.8,624.9 73.6,624.9 C74.4,624.9 76.4,623.6 77.4,623.6 C78.4,623.6 80.1,625.4 81.3,625.1 C82.5,624.8 85.1,621.4 86.5,621.4 C87.9,621.4 91.1,624.8 92.3,625.1 C93.5,625.4 94.7,623.9 95.5,623.9 C96.3,623.9 97.8,625.3 98.8,625.1 C99.8,624.9 102.2,622.4 103.3,622.3 C104.4,622.2 106.0,624.6 107.2,624.6 C108.4,624.6 111.2,622.5 112.3,622.3 C113.4,622.1 115.0,623.6 115.6,623.2 C116.2,622.8 116.3,620.4 116.9,619.0 C117.5,617.6 119.3,615.5 120.1,612.6 C120.9,609.7 122.1,603.7 122.7,597.0 C123.3,590.3 124.1,568.0 124.6,560.9 C125.1,553.8 126.1,543.6 126.6,542.1 C127.1,540.6 128.0,544.2 128.5,549.2 C129.0,554.2 129.8,572.1 130.4,580.2 C131.0,588.3 132.3,605.6 133.0,611.3 C133.7,617.0 134.8,622.1 135.6,624.2 C136.4,626.3 137.7,627.7 139.1,627.8 C140.5,627.9 144.6,625.3 146.0,624.8 C147.4,624.3 149.0,623.8 150.1,623.7 C151.2,623.6 152.9,624.2 154.2,624.4 C155.5,624.6 159.0,625.9 160.3,625.4 C161.6,624.9 163.2,620.8 164.4,620.6 C165.6,620.4 167.9,623.3 169.2,623.7 C170.5,624.1 173.7,623.4 174.7,623.7 C175.7,624.0 175.5,626.2 176.7,626.2 C177.9,626.2 182.2,624.2 184.3,623.7 C186.4,623.2 190.7,621.9 192.5,622.4 C194.3,622.9 196.8,627.2 198.0,627.2 C199.2,627.2 200.9,623.1 202.1,622.6 C203.3,622.1 206.1,622.9 207.5,623.1 C208.9,623.3 211.6,624.1 213.0,624.4 C214.4,624.7 217.2,625.3 218.5,625.1 C219.8,624.9 221.9,622.8 223.3,622.8 C224.7,622.8 227.9,625.6 229.4,625.4 C230.9,625.2 233.7,621.2 234.9,621.0 C236.1,620.8 238.5,623.2 239.0,623.5" fill="none" stroke="#249d5a" stroke-width="1.6" stroke-linejoin="round" stroke-linecap="round"/>
<line x1="41.5" y1="643.9" x2="238.8" y2="643.9" stroke="#404040" stroke-width="1.6"/>
<line x1="81.2" y1="643.9" x2="81.2" y2="647.9" stroke="#555" stroke-width="1.1"/>
<text x="83.7" y="664.6999999999999" font-size="16.5" text-anchor="middle">10</text>
<line x1="120.6" y1="643.9" x2="120.6" y2="647.9" stroke="#555" stroke-width="1.1"/>
<text x="121.6" y="664.6999999999999" font-size="16.5" text-anchor="middle">9</text>
<line x1="160.0" y1="643.9" x2="160.0" y2="647.9" stroke="#555" stroke-width="1.1"/>
<text x="161.0" y="664.6999999999999" font-size="16.5" text-anchor="middle">8</text>
<line x1="199.4" y1="643.9" x2="199.4" y2="647.9" stroke="#555" stroke-width="1.1"/>
<text x="200.4" y="664.6999999999999" font-size="16.5" text-anchor="middle">7</text>
<line x1="238.8" y1="643.9" x2="238.8" y2="647.9" stroke="#555" stroke-width="1.1"/>
<text x="239.8" y="664.6999999999999" font-size="16.5" text-anchor="middle">6</text>
<text x="44.3" y="557.6" font-size="21">d)</text>
<path d="M293.9,625.3 C294.3,625.8 295.8,629.4 296.6,629.2 C297.4,629.0 299.0,625.1 300.1,624.0 C301.2,622.9 303.6,620.2 304.8,620.5 C306.0,620.8 307.8,626.3 309.0,626.0 C310.2,625.7 312.6,618.8 313.7,618.5 C314.8,618.2 316.8,623.3 317.8,624.0 C318.8,624.7 320.1,623.4 321.3,624.2 C322.5,625.0 325.2,630.6 326.7,630.1 C328.2,629.6 331.7,620.9 332.9,620.1 C334.1,619.3 335.4,623.9 336.3,624.0 C337.2,624.1 338.6,620.2 339.7,620.5 C340.8,620.8 343.3,625.5 344.5,626.0 C345.7,626.5 348.3,624.6 349.3,624.7 C350.3,624.8 351.2,627.1 352.1,626.4 C353.0,625.7 355.1,619.1 356.2,619.6 C357.3,620.1 359.3,629.9 360.3,630.1 C361.3,630.3 362.7,621.7 363.7,621.0 C364.7,620.3 366.8,625.2 367.8,624.7 C368.8,624.2 370.5,619.5 371.2,617.1 C371.9,614.7 372.7,612.4 373.3,606.2 C373.9,600.0 375.3,577.3 376.0,569.2 C376.7,561.1 378.2,546.4 378.8,543.9 C379.4,541.4 380.3,544.1 380.8,550.1 C381.3,556.1 382.5,581.3 382.9,589.7 C383.3,598.1 383.3,610.2 384.2,614.4 C385.1,618.6 388.7,621.3 389.8,622.1 C390.9,622.9 391.5,619.2 392.5,620.3 C393.5,621.4 395.8,630.1 397.3,630.3 C398.8,630.5 402.5,620.9 404.2,621.7 C405.9,622.5 408.7,636.8 410.3,636.7 C411.9,636.6 415.1,622.1 416.5,620.7 C417.9,619.3 419.8,626.2 420.9,626.2 C422.0,626.2 423.7,621.1 424.7,621.0 C425.7,620.9 427.6,624.8 428.8,625.1 C430.0,625.4 432.4,622.9 433.6,623.1 C434.8,623.3 436.5,627.0 437.7,626.5 C438.9,626.0 441.3,618.8 442.5,619.0 C443.7,619.2 445.5,627.2 446.6,627.8 C447.7,628.4 449.7,623.8 450.7,623.7 C451.7,623.6 453.1,627.2 454.1,627.2 C455.1,627.2 457.0,624.0 458.2,623.7 C459.4,623.4 461.9,624.4 463.0,625.1 C464.1,625.8 465.3,629.6 466.4,628.9 C467.5,628.2 469.7,620.4 471.2,619.6 C472.7,618.8 476.8,621.4 478.1,622.4 C479.4,623.4 480.4,626.9 481.5,627.2 C482.6,627.5 485.1,624.3 486.3,624.4 C487.5,624.5 489.9,627.6 490.4,628.1" fill="none" stroke="#1f77b4" stroke-width="1.6" stroke-linejoin="round" stroke-linecap="round"/>
<line x1="293.6" y1="643.9" x2="490.90000000000003" y2="643.9" stroke="#404040" stroke-width="1.6"/>
<line x1="333.3" y1="643.9" x2="333.3" y2="647.9" stroke="#555" stroke-width="1.1"/>
<text x="335.8" y="664.6999999999999" font-size="16.5" text-anchor="middle">10</text>
<line x1="372.7" y1="643.9" x2="372.7" y2="647.9" stroke="#555" stroke-width="1.1"/>
<text x="373.7" y="664.6999999999999" font-size="16.5" text-anchor="middle">9</text>
<line x1="412.1" y1="643.9" x2="412.1" y2="647.9" stroke="#555" stroke-width="1.1"/>
<text x="413.1" y="664.6999999999999" font-size="16.5" text-anchor="middle">8</text>
<line x1="451.5" y1="643.9" x2="451.5" y2="647.9" stroke="#555" stroke-width="1.1"/>
<text x="452.5" y="664.6999999999999" font-size="16.5" text-anchor="middle">7</text>
<line x1="490.9" y1="643.9" x2="490.9" y2="647.9" stroke="#555" stroke-width="1.1"/>
<text x="491.9" y="664.6999999999999" font-size="16.5" text-anchor="middle">6</text>
<text x="296.40000000000003" y="557.6" font-size="21">e)</text>
<path d="M545.5,623.3 C545.9,623.4 547.3,624.6 548.3,624.0 C549.3,623.4 552.1,619.2 553.1,618.8 C554.1,618.4 555.2,621.2 555.8,621.2 C556.4,621.2 557.2,618.1 557.8,618.8 C558.4,619.5 559.9,625.9 560.6,626.4 C561.3,626.9 562.1,623.5 563.3,622.9 C564.5,622.3 568.0,621.5 569.5,621.9 C571.0,622.3 573.8,626.0 575.0,626.0 C576.2,626.0 577.6,621.3 578.4,621.9 C579.2,622.5 580.8,630.6 581.5,630.8 C582.2,631.0 583.3,624.7 583.9,623.3 C584.5,621.9 585.2,619.6 585.9,619.9 C586.6,620.2 588.4,624.5 589.3,625.3 C590.2,626.1 591.8,626.9 592.7,626.4 C593.6,625.9 595.1,621.4 596.2,621.6 C597.3,621.8 599.8,627.8 601.0,628.1 C602.2,628.4 603.9,623.5 605.1,623.7 C606.3,623.9 608.7,630.5 609.9,629.4 C611.1,628.3 612.8,615.6 614.0,615.1 C615.2,614.6 617.7,624.6 618.8,625.3 C619.9,626.0 621.5,621.6 622.2,620.5 C622.9,619.4 623.4,619.9 624.0,617.1 C624.6,614.3 626.4,604.6 627.0,599.3 C627.6,594.0 628.6,582.7 629.0,576.1 C629.4,569.5 630.0,552.4 630.4,548.7 C630.8,545.0 631.4,548.7 631.8,548.0 C632.2,547.3 632.7,542.2 633.1,543.2 C633.5,544.2 634.1,548.4 634.5,555.5 C634.9,562.6 636.1,590.3 636.5,598.0 C636.9,605.7 637.1,610.3 637.6,614.4 C638.1,618.5 639.8,628.2 640.7,629.9 C641.6,631.6 643.2,628.6 644.2,627.2 C645.2,625.8 647.3,619.3 648.3,619.0 C649.3,618.7 650.8,623.9 651.7,625.1 C652.6,626.3 654.2,629.0 655.1,628.5 C656.0,628.0 657.6,621.9 658.5,621.0 C659.4,620.1 661.0,620.3 662.0,621.7 C663.0,623.1 665.0,631.8 666.1,632.0 C667.2,632.2 669.8,623.8 670.8,623.1 C671.8,622.4 672.9,626.7 673.6,626.8 C674.3,626.9 675.6,623.6 676.3,623.7 C677.0,623.8 678.2,627.1 679.1,627.2 C680.0,627.3 682.2,624.3 683.2,624.4 C684.2,624.5 685.7,627.4 686.6,627.8 C687.5,628.2 689.1,627.7 690.0,627.2 C690.9,626.7 692.7,625.8 693.4,623.7 C694.1,621.6 695.0,611.5 695.5,611.2 C696.0,610.9 697.0,619.5 697.5,621.7 C698.0,623.9 698.9,627.4 699.6,627.8 C700.3,628.2 702.1,624.8 703.0,624.4 C703.9,624.0 705.6,624.8 706.4,624.4 C707.2,624.0 708.5,622.1 709.2,621.7 C709.9,621.3 711.2,620.4 711.9,621.0 C712.6,621.6 713.8,625.7 714.6,626.2 C715.4,626.7 717.3,624.4 718.1,625.1 C718.9,625.8 720.0,631.3 720.8,631.3 C721.6,631.3 723.3,625.5 724.2,625.1 C725.1,624.7 726.6,628.9 727.7,628.5 C728.8,628.1 731.3,621.9 732.4,622.4 C733.5,622.9 735.4,632.7 736.5,632.6 C737.6,632.5 739.9,622.8 740.7,621.7 C741.5,620.6 742.4,624.0 742.7,624.4" fill="none" stroke="#e0131c" stroke-width="1.6" stroke-linejoin="round" stroke-linecap="round"/>
<line x1="545.4" y1="643.9" x2="742.7" y2="643.9" stroke="#404040" stroke-width="1.6"/>
<line x1="585.1" y1="643.9" x2="585.1" y2="647.9" stroke="#555" stroke-width="1.1"/>
<text x="587.6" y="664.6999999999999" font-size="16.5" text-anchor="middle">10</text>
<line x1="624.5" y1="643.9" x2="624.5" y2="647.9" stroke="#555" stroke-width="1.1"/>
<text x="625.5" y="664.6999999999999" font-size="16.5" text-anchor="middle">9</text>
<line x1="663.9" y1="643.9" x2="663.9" y2="647.9" stroke="#555" stroke-width="1.1"/>
<text x="664.9" y="664.6999999999999" font-size="16.5" text-anchor="middle">8</text>
<line x1="703.3" y1="643.9" x2="703.3" y2="647.9" stroke="#555" stroke-width="1.1"/>
<text x="704.3" y="664.6999999999999" font-size="16.5" text-anchor="middle">7</text>
<line x1="742.7" y1="643.9" x2="742.7" y2="647.9" stroke="#555" stroke-width="1.1"/>
<text x="743.7" y="664.6999999999999" font-size="16.5" text-anchor="middle">6</text>
<text x="548.1999999999999" y="557.6" font-size="21">f)</text>
<path d="M41.9,769.9 C42.1,770.1 43.0,771.3 43.8,771.1 C44.6,770.9 47.2,768.8 48.3,768.6 C49.4,768.4 51.1,769.9 52.2,769.9 C53.3,769.9 55.5,768.6 56.7,768.6 C57.9,768.6 59.9,769.8 61.3,769.9 C62.7,770.0 66.4,769.1 67.7,769.2 C69.0,769.3 70.0,770.5 71.0,770.5 C72.0,770.5 74.2,768.9 75.5,768.9 C76.8,768.9 79.4,770.1 80.7,770.2 C82.0,770.3 84.5,769.9 85.8,769.6 C87.1,769.3 89.2,768.3 90.4,768.2 C91.6,768.1 93.1,768.6 94.9,768.7 C96.7,768.8 102.8,769.3 104.6,768.9 C106.4,768.5 107.6,768.1 108.5,765.3 C109.4,762.5 110.9,752.4 111.7,747.2 C112.5,742.0 114.2,728.6 114.9,725.2 C115.6,721.8 116.3,720.3 116.9,721.1 C117.5,721.9 118.6,726.6 119.4,731.7 C120.2,736.8 122.3,755.2 123.3,760.2 C124.3,765.2 126.3,768.3 127.2,769.9 C128.1,771.5 129.5,772.8 130.4,772.8 C131.3,772.8 133.4,770.6 134.3,769.9 C135.2,769.2 136.5,770.7 137.1,767.6 C137.7,764.5 138.5,754.4 139.1,745.7 C139.7,737.0 141.1,708.5 141.8,700.5 C142.5,692.5 143.5,685.3 144.3,684.4 C145.1,683.5 147.2,691.1 148.0,693.7 C148.8,696.3 149.6,699.3 150.1,704.6 C150.6,709.9 151.6,727.4 152.1,734.7 C152.6,742.0 153.8,756.9 154.2,760.8 C154.6,764.7 155.0,764.5 155.5,764.9 C156.0,765.3 157.6,764.1 158.3,764.2 C159.0,764.3 160.3,766.3 161.0,766.0 C161.7,765.7 163.0,762.0 163.7,761.9 C164.4,761.8 165.6,763.8 166.5,764.9 C167.4,766.0 169.4,770.0 170.6,770.6 C171.8,771.2 174.4,769.4 176.1,769.2 C177.8,769.0 182.2,769.4 183.6,769.0 C185.0,768.6 186.2,766.5 187.0,766.5 C187.8,766.5 188.8,768.8 189.7,769.0 C190.6,769.2 193.0,768.1 193.9,768.3 C194.8,768.5 195.4,771.0 196.6,770.3 C197.8,769.6 202.2,763.6 203.4,762.8 C204.6,762.0 205.5,763.3 206.2,763.8 C206.9,764.3 208.3,766.7 208.9,766.9 C209.5,767.1 210.1,765.2 211.0,765.5 C211.9,765.8 214.1,768.6 215.8,769.0 C217.5,769.4 222.2,768.5 224.0,768.7 C225.8,768.9 227.5,770.2 229.4,770.3 C231.3,770.4 237.8,769.3 239.0,769.2" fill="none" stroke="#249d5a" stroke-width="1.6" stroke-linejoin="round" stroke-linecap="round"/>
<line x1="41.5" y1="790.0" x2="238.8" y2="790.0" stroke="#404040" stroke-width="1.6"/>
<line x1="81.2" y1="790.0" x2="81.2" y2="794.0" stroke="#555" stroke-width="1.1"/>
<text x="83.7" y="810.8" font-size="16.5" text-anchor="middle">10</text>
<line x1="120.6" y1="790.0" x2="120.6" y2="794.0" stroke="#555" stroke-width="1.1"/>
<text x="121.6" y="810.8" font-size="16.5" text-anchor="middle">9</text>
<line x1="160.0" y1="790.0" x2="160.0" y2="794.0" stroke="#555" stroke-width="1.1"/>
<text x="161.0" y="810.8" font-size="16.5" text-anchor="middle">8</text>
<line x1="199.4" y1="790.0" x2="199.4" y2="794.0" stroke="#555" stroke-width="1.1"/>
<text x="200.4" y="810.8" font-size="16.5" text-anchor="middle">7</text>
<line x1="238.8" y1="790.0" x2="238.8" y2="794.0" stroke="#555" stroke-width="1.1"/>
<text x="239.8" y="810.8" font-size="16.5" text-anchor="middle">6</text>
<text x="44.3" y="703.3" font-size="21">g)</text>
<path d="M293.9,765.5 C294.4,766.2 296.8,771.2 298.0,771.0 C299.2,770.8 301.6,764.0 302.8,763.8 C304.0,763.6 305.8,769.0 306.9,769.7 C308.0,770.4 310.0,768.4 311.0,769.0 C312.0,769.6 313.4,774.3 314.4,774.2 C315.4,774.1 317.5,768.6 318.5,768.3 C319.5,768.0 321.0,771.9 322.0,772.0 C323.0,772.1 324.9,768.8 326.1,768.7 C327.3,768.6 330.1,771.3 331.5,771.4 C332.9,771.5 335.2,770.1 337.0,769.7 C338.8,769.3 343.7,768.1 345.2,768.3 C346.7,768.5 347.7,770.8 348.6,771.0 C349.5,771.2 351.1,770.2 352.1,769.7 C353.1,769.2 355.1,768.1 356.2,767.3 C357.3,766.5 359.3,766.0 360.3,763.5 C361.3,761.0 362.7,754.5 363.7,748.4 C364.7,742.3 366.8,718.1 367.8,716.3 C368.8,714.5 370.3,728.0 371.2,734.7 C372.1,741.4 373.6,763.1 374.7,767.6 C375.8,772.1 378.2,769.6 379.4,769.0 C380.6,768.4 383.1,762.8 384.2,762.8 C385.3,762.8 386.8,769.3 387.5,769.0 C388.2,768.7 389.2,767.0 389.8,760.8 C390.4,754.6 391.7,730.7 392.5,721.1 C393.3,711.5 395.1,690.5 396.0,686.8 C396.9,683.1 398.6,687.8 399.4,692.3 C400.2,696.8 401.4,712.7 402.1,721.1 C402.8,729.5 404.1,749.9 404.8,756.7 C405.5,763.5 407.0,771.1 407.6,773.1 C408.2,775.1 408.9,773.9 409.6,772.4 C410.3,770.9 412.1,762.6 413.1,761.4 C414.1,760.2 415.8,761.1 417.2,762.8 C418.6,764.5 422.6,774.1 424.0,774.2 C425.4,774.3 426.9,763.3 428.1,763.5 C429.3,763.7 431.4,775.1 432.9,775.8 C434.4,776.5 438.1,769.5 439.7,768.7 C441.3,767.9 443.9,770.1 445.2,769.7 C446.5,769.3 448.9,765.9 450.0,765.5 C451.1,765.1 452.4,767.6 453.4,766.9 C454.4,766.2 456.3,760.0 457.5,760.1 C458.7,760.2 461.8,766.8 463.0,767.6 C464.2,768.4 465.3,766.1 466.4,766.5 C467.5,766.9 470.1,770.1 471.2,770.3 C472.3,770.5 473.7,767.6 474.7,767.9 C475.7,768.2 477.8,771.9 478.8,772.4 C479.8,772.9 481.1,772.9 482.2,772.0 C483.3,771.1 485.8,765.4 487.0,765.5 C488.2,765.6 490.6,771.5 491.1,772.4" fill="none" stroke="#1f77b4" stroke-width="1.6" stroke-linejoin="round" stroke-linecap="round"/>
<line x1="293.6" y1="790.0" x2="490.90000000000003" y2="790.0" stroke="#404040" stroke-width="1.6"/>
<line x1="333.3" y1="790.0" x2="333.3" y2="794.0" stroke="#555" stroke-width="1.1"/>
<text x="335.8" y="810.8" font-size="16.5" text-anchor="middle">10</text>
<line x1="372.7" y1="790.0" x2="372.7" y2="794.0" stroke="#555" stroke-width="1.1"/>
<text x="373.7" y="810.8" font-size="16.5" text-anchor="middle">9</text>
<line x1="412.1" y1="790.0" x2="412.1" y2="794.0" stroke="#555" stroke-width="1.1"/>
<text x="413.1" y="810.8" font-size="16.5" text-anchor="middle">8</text>
<line x1="451.5" y1="790.0" x2="451.5" y2="794.0" stroke="#555" stroke-width="1.1"/>
<text x="452.5" y="810.8" font-size="16.5" text-anchor="middle">7</text>
<line x1="490.9" y1="790.0" x2="490.9" y2="794.0" stroke="#555" stroke-width="1.1"/>
<text x="491.9" y="810.8" font-size="16.5" text-anchor="middle">6</text>
<text x="296.40000000000003" y="703.3" font-size="21">h)</text>
<path d="M545.5,769.2 C545.9,769.4 547.5,771.2 548.3,771.0 C549.1,770.8 550.9,767.7 551.7,767.6 C552.5,767.5 553.5,770.0 554.4,770.1 C555.3,770.2 557.3,768.2 558.5,768.3 C559.7,768.4 562.6,770.9 564.0,771.0 C565.4,771.1 567.7,769.1 569.5,769.2 C571.3,769.3 576.0,772.1 577.7,772.0 C579.4,771.9 581.3,768.7 582.5,768.7 C583.7,768.7 585.6,771.9 586.6,771.7 C587.6,771.5 589.1,766.6 590.0,766.9 C590.9,767.2 592.3,773.5 593.4,773.8 C594.5,774.1 597.0,768.6 598.2,769.0 C599.4,769.4 601.4,776.4 602.3,776.5 C603.2,776.6 604.2,770.6 605.1,769.7 C606.0,768.8 608.2,769.3 609.2,769.7 C610.2,770.1 612.3,773.4 613.0,772.8 C613.7,772.2 614.0,768.6 614.7,764.9 C615.4,761.2 617.4,750.0 618.1,744.3 C618.8,738.6 619.4,723.8 620.1,721.1 C620.8,718.4 622.8,717.8 623.5,723.8 C624.2,729.8 624.9,761.6 625.6,767.6 C626.3,773.6 628.1,769.4 629.0,769.7 C629.9,770.0 631.4,769.9 632.4,770.1 C633.4,770.3 635.6,770.8 636.5,771.0 C637.4,771.2 638.8,772.4 639.3,772.0 C639.8,771.6 639.6,769.6 640.1,767.6 C640.6,765.6 642.2,762.7 642.8,756.7 C643.4,750.7 644.3,730.4 644.8,721.1 C645.3,711.8 646.4,689.6 646.9,685.5 C647.4,681.4 648.4,687.5 649.0,689.6 C649.6,691.7 651.0,696.0 651.7,701.9 C652.4,707.8 653.5,726.5 654.4,734.7 C655.3,742.9 657.5,760.4 658.5,764.9 C659.5,769.4 660.9,770.1 662.0,769.0 C663.1,767.9 665.6,756.4 666.7,756.4 C667.8,756.4 669.4,767.2 670.8,769.0 C672.2,770.8 676.3,769.2 677.7,770.3 C679.1,771.4 680.7,777.4 681.8,777.2 C682.9,777.0 685.1,769.3 685.9,768.7 C686.7,768.1 687.5,772.4 688.0,772.4 C688.5,772.4 689.4,768.8 690.0,769.0 C690.6,769.2 691.7,773.8 692.7,773.8 C693.7,773.8 696.4,769.2 697.5,768.7 C698.6,768.2 700.2,770.7 701.0,770.3 C701.8,769.9 702.7,765.9 703.7,765.5 C704.7,765.1 707.6,768.1 708.5,766.9 C709.4,765.7 709.7,755.9 710.5,756.4 C711.3,756.9 713.5,769.4 714.6,771.0 C715.7,772.6 717.6,768.8 718.8,768.7 C720.0,768.6 722.3,770.1 723.5,770.1 C724.7,770.1 727.1,768.9 728.3,768.7 C729.5,768.5 732.3,769.4 733.1,768.7 C733.9,768.0 734.0,763.9 734.5,763.5 C735.0,763.1 736.6,764.8 737.2,765.5 C737.8,766.2 738.6,768.0 739.3,768.7 C740.0,769.4 742.3,770.7 742.7,771.0" fill="none" stroke="#e0131c" stroke-width="1.6" stroke-linejoin="round" stroke-linecap="round"/>
<line x1="545.4" y1="790.0" x2="742.7" y2="790.0" stroke="#404040" stroke-width="1.6"/>
<line x1="585.1" y1="790.0" x2="585.1" y2="794.0" stroke="#555" stroke-width="1.1"/>
<text x="587.6" y="810.8" font-size="16.5" text-anchor="middle">10</text>
<line x1="624.5" y1="790.0" x2="624.5" y2="794.0" stroke="#555" stroke-width="1.1"/>
<text x="625.5" y="810.8" font-size="16.5" text-anchor="middle">9</text>
<line x1="663.9" y1="790.0" x2="663.9" y2="794.0" stroke="#555" stroke-width="1.1"/>
<text x="664.9" y="810.8" font-size="16.5" text-anchor="middle">8</text>
<line x1="703.3" y1="790.0" x2="703.3" y2="794.0" stroke="#555" stroke-width="1.1"/>
<text x="704.3" y="810.8" font-size="16.5" text-anchor="middle">7</text>
<line x1="742.7" y1="790.0" x2="742.7" y2="794.0" stroke="#555" stroke-width="1.1"/>
<text x="743.7" y="810.8" font-size="16.5" text-anchor="middle">6</text>
<text x="548.1999999999999" y="703.3" font-size="21">i)</text>
<path d="M41.9,928.9 C42.1,928.8 43.0,927.9 43.8,928.2 C44.6,928.5 46.5,931.2 47.7,931.1 C48.9,931.0 51.6,927.4 52.9,927.3 C54.2,927.2 56.6,930.1 58.0,930.2 C59.4,930.3 62.5,927.8 63.9,927.7 C65.3,927.6 67.4,929.4 69.0,929.5 C70.6,929.6 74.3,928.5 76.1,928.7 C77.9,928.9 81.0,931.2 82.6,931.1 C84.2,931.0 86.9,928.1 88.4,927.9 C89.9,927.7 92.4,930.1 94.2,929.9 C96.0,929.7 100.4,926.4 102.0,926.4 C103.6,926.4 105.5,929.4 106.5,929.9 C107.5,930.4 109.1,930.1 109.8,930.5 C110.5,930.9 110.9,933.0 111.7,932.8 C112.5,932.6 114.8,931.2 115.6,929.2 C116.4,927.2 116.9,922.1 117.5,917.6 C118.1,913.1 119.4,899.1 120.1,894.3 C120.8,889.5 122.0,880.6 122.7,880.3 C123.4,880.0 124.6,886.2 125.3,891.7 C126.0,897.2 127.2,916.9 127.9,922.7 C128.6,928.5 129.7,936.1 130.4,936.3 C131.1,936.5 131.7,925.5 133.0,924.0 C134.3,922.5 139.3,925.0 140.5,924.6 C141.7,924.2 142.0,923.3 142.5,920.8 C143.0,918.3 144.1,908.5 144.6,905.7 C145.1,902.9 146.1,902.7 146.6,898.9 C147.1,895.1 148.2,877.2 148.7,876.3 C149.2,875.4 150.1,886.0 150.7,892.0 C151.3,898.0 152.7,917.5 153.5,922.1 C154.3,926.7 155.9,926.3 156.9,927.6 C157.9,928.9 159.9,931.7 161.0,932.0 C162.1,932.3 164.0,930.5 165.1,930.1 C166.2,929.7 168.0,928.9 169.2,929.0 C170.4,929.1 172.9,931.4 174.0,931.0 C175.1,930.6 176.3,927.4 177.4,926.2 C178.5,925.0 181.2,925.5 182.2,921.4 C183.2,917.3 184.2,904.0 185.0,894.7 C185.8,885.4 187.6,854.0 188.4,849.6 C189.2,845.2 190.4,852.9 191.1,860.5 C191.8,868.1 193.0,899.7 193.9,908.4 C194.8,917.1 196.6,924.8 198.0,927.6 C199.4,930.4 203.2,930.2 204.8,930.3 C206.4,930.4 208.8,928.6 210.0,928.7 C211.2,928.8 212.4,931.0 213.7,931.0 C215.0,931.0 218.0,928.8 219.9,928.7 C221.8,928.6 226.3,930.5 228.1,930.6 C229.9,930.7 232.1,929.5 233.5,929.2 C234.9,928.9 238.3,928.4 239.0,928.3" fill="none" stroke="#249d5a" stroke-width="1.6" stroke-linejoin="round" stroke-linecap="round"/>
<line x1="41.5" y1="949.9" x2="238.8" y2="949.9" stroke="#404040" stroke-width="1.6"/>
<line x1="81.2" y1="949.9" x2="81.2" y2="953.9" stroke="#555" stroke-width="1.1"/>
<text x="83.7" y="970.6999999999999" font-size="16.5" text-anchor="middle">10</text>
<line x1="120.6" y1="949.9" x2="120.6" y2="953.9" stroke="#555" stroke-width="1.1"/>
<text x="121.6" y="970.6999999999999" font-size="16.5" text-anchor="middle">9</text>
<line x1="160.0" y1="949.9" x2="160.0" y2="953.9" stroke="#555" stroke-width="1.1"/>
<text x="161.0" y="970.6999999999999" font-size="16.5" text-anchor="middle">8</text>
<line x1="199.4" y1="949.9" x2="199.4" y2="953.9" stroke="#555" stroke-width="1.1"/>
<text x="200.4" y="970.6999999999999" font-size="16.5" text-anchor="middle">7</text>
<line x1="238.8" y1="949.9" x2="238.8" y2="953.9" stroke="#555" stroke-width="1.1"/>
<text x="239.8" y="970.6999999999999" font-size="16.5" text-anchor="middle">6</text>
<text x="44.3" y="863.5" font-size="21">j)</text>
<path d="M293.9,932.0 C294.4,931.4 296.8,927.3 298.0,927.6 C299.2,927.9 301.5,933.6 302.8,934.4 C304.1,935.2 306.9,936.0 308.3,933.8 C309.7,931.6 312.5,918.2 313.7,917.7 C314.9,917.2 316.3,927.6 317.2,930.3 C318.1,933.0 319.6,938.4 320.6,938.3 C321.6,938.2 323.5,930.7 324.7,929.7 C325.9,928.7 328.4,930.7 329.5,930.3 C330.6,929.9 332.0,926.8 332.9,926.9 C333.8,927.0 335.1,930.3 336.3,931.0 C337.5,931.7 340.5,932.2 341.8,932.0 C343.1,931.8 345.4,930.5 346.6,929.7 C347.8,928.9 349.6,925.0 350.7,925.5 C351.8,926.0 353.6,934.1 354.8,933.8 C356.0,933.5 358.8,922.5 360.3,923.5 C361.8,924.5 365.1,943.3 366.4,941.3 C367.7,939.3 369.5,915.1 370.5,908.4 C371.5,901.7 373.1,891.1 374.0,890.0 C374.9,888.9 376.6,894.5 377.4,900.2 C378.2,905.9 379.8,930.6 380.5,934.2 C381.2,937.8 382.0,928.2 382.9,927.6 C383.8,927.0 386.1,930.0 387.1,929.7 C388.1,929.4 389.6,925.5 390.5,925.1 C391.4,924.7 393.1,928.3 393.9,926.9 C394.7,925.5 396.0,916.7 396.6,914.6 C397.2,912.5 398.2,915.1 398.7,910.5 C399.2,905.9 400.3,880.7 400.7,879.0 C401.1,877.3 401.6,892.2 402.1,897.5 C402.6,902.8 403.9,915.3 404.8,919.4 C405.7,923.5 408.0,927.6 409.0,929.0 C410.0,930.4 411.5,929.7 412.4,930.3 C413.3,930.9 414.9,933.8 415.8,933.8 C416.7,933.8 418.3,931.0 419.2,930.6 C420.1,930.2 421.7,931.2 422.6,931.0 C423.5,930.8 425.0,928.4 426.1,928.7 C427.2,929.0 430.0,933.3 430.9,933.3 C431.8,933.3 432.2,934.0 432.9,929.0 C433.6,924.0 435.4,905.2 436.3,894.7 C437.2,884.2 438.9,852.5 439.7,848.2 C440.5,843.9 441.7,855.0 442.5,861.9 C443.3,868.8 445.0,893.2 445.9,901.6 C446.8,910.0 448.6,922.5 449.3,926.2 C450.0,929.9 450.4,929.9 451.4,930.3 C452.4,930.7 455.8,929.9 456.9,929.2 C458.0,928.5 458.7,924.3 459.6,924.9 C460.5,925.5 462.5,933.4 463.7,933.8 C464.9,934.2 467.8,928.0 469.2,927.9 C470.6,927.8 473.5,933.0 474.7,933.1 C475.9,933.2 477.9,929.3 478.8,929.0 C479.7,928.7 480.4,931.1 481.5,931.0 C482.6,930.9 485.9,928.9 487.0,928.3 C488.1,927.7 489.2,926.3 489.7,926.2 C490.2,926.1 490.9,927.2 491.1,927.3" fill="none" stroke="#1f77b4" stroke-width="1.6" stroke-linejoin="round" stroke-linecap="round"/>
<line x1="293.6" y1="949.9" x2="490.90000000000003" y2="949.9" stroke="#404040" stroke-width="1.6"/>
<line x1="333.3" y1="949.9" x2="333.3" y2="953.9" stroke="#555" stroke-width="1.1"/>
<text x="335.8" y="970.6999999999999" font-size="16.5" text-anchor="middle">10</text>
<line x1="372.7" y1="949.9" x2="372.7" y2="953.9" stroke="#555" stroke-width="1.1"/>
<text x="373.7" y="970.6999999999999" font-size="16.5" text-anchor="middle">9</text>
<line x1="412.1" y1="949.9" x2="412.1" y2="953.9" stroke="#555" stroke-width="1.1"/>
<text x="413.1" y="970.6999999999999" font-size="16.5" text-anchor="middle">8</text>
<line x1="451.5" y1="949.9" x2="451.5" y2="953.9" stroke="#555" stroke-width="1.1"/>
<text x="452.5" y="970.6999999999999" font-size="16.5" text-anchor="middle">7</text>
<line x1="490.9" y1="949.9" x2="490.9" y2="953.9" stroke="#555" stroke-width="1.1"/>
<text x="491.9" y="970.6999999999999" font-size="16.5" text-anchor="middle">6</text>
<text x="296.40000000000003" y="863.5" font-size="21">k)</text>
<path d="M545.5,930.3 C545.8,930.2 546.7,929.1 547.6,929.2 C548.5,929.3 551.2,930.1 552.4,931.0 C553.6,931.9 555.5,936.1 556.5,935.8 C557.5,935.5 558.9,929.5 559.9,929.0 C560.9,928.5 563.0,932.4 564.0,932.0 C565.0,931.6 566.4,926.2 567.4,926.2 C568.4,926.2 570.5,931.8 571.5,932.0 C572.5,932.2 574.2,927.4 575.0,927.6 C575.8,927.8 576.7,933.4 577.7,933.8 C578.7,934.2 581.5,930.8 582.5,930.3 C583.5,929.8 584.4,930.3 585.2,929.7 C586.0,929.1 587.6,925.0 588.6,926.0 C589.6,927.0 591.5,936.2 592.7,937.2 C593.9,938.2 597.0,934.7 598.2,933.8 C599.4,932.9 600.5,930.8 601.6,930.3 C602.7,929.8 605.4,930.9 606.4,930.3 C607.4,929.7 608.5,925.0 609.2,925.5 C609.9,926.0 610.9,932.7 611.9,933.8 C612.9,934.9 615.8,933.3 616.7,933.8 C617.6,934.3 618.4,937.6 618.8,937.5 C619.2,937.4 619.6,936.9 620.1,933.1 C620.6,929.3 622.3,912.4 622.9,908.4 C623.5,904.4 624.3,901.8 624.9,902.3 C625.5,902.8 627.2,909.9 627.7,912.5 C628.2,915.1 628.5,918.5 629.0,922.1 C629.5,925.7 631.2,938.7 631.8,939.9 C632.4,941.1 633.3,931.8 633.8,931.0 C634.3,930.2 634.7,934.7 635.9,933.8 C637.1,932.9 641.6,924.7 642.8,924.2 C644.0,923.7 645.0,929.3 645.5,929.7 C646.0,930.1 646.4,934.3 646.9,927.6 C647.4,920.9 649.1,885.1 649.6,878.3 C650.1,871.5 650.6,876.0 651.0,875.3 C651.4,874.6 652.1,872.4 652.4,872.6 C652.7,872.8 652.7,874.1 653.1,877.0 C653.5,879.9 654.4,887.8 655.1,894.7 C655.8,901.6 657.4,925.5 658.5,930.3 C659.6,935.1 662.1,932.1 663.3,932.0 C664.5,931.9 665.9,929.2 667.4,929.7 C668.9,930.2 673.5,935.5 675.0,935.8 C676.5,936.1 678.2,932.1 679.1,931.7 C680.0,931.3 680.8,932.8 681.8,932.4 C682.8,932.0 685.6,933.2 686.6,928.3 C687.6,923.4 688.5,905.2 689.3,894.7 C690.1,884.2 691.9,851.0 692.7,847.5 C693.5,844.0 694.8,857.2 695.5,867.4 C696.2,877.6 697.4,918.5 698.2,926.2 C699.0,933.9 700.7,925.7 701.6,926.9 C702.5,928.1 704.2,935.5 705.1,935.8 C706.0,936.1 707.6,930.5 708.5,929.2 C709.4,927.9 710.7,925.5 711.9,926.0 C713.1,926.5 716.3,932.5 717.4,933.1 C718.5,933.7 719.2,930.0 720.1,930.3 C721.0,930.6 723.3,934.3 724.2,935.1 C725.1,935.9 726.4,936.9 727.0,936.5 C727.6,936.1 728.4,931.6 729.0,931.7 C729.6,931.8 731.1,938.2 731.8,937.5 C732.5,936.8 733.9,927.4 734.5,926.5 C735.1,925.6 735.9,930.0 736.5,930.3 C737.1,930.6 738.6,928.5 739.3,928.7 C740.0,928.9 741.5,931.7 742.0,932.0 C742.5,932.3 743.2,931.1 743.4,931.0" fill="none" stroke="#e0131c" stroke-width="1.6" stroke-linejoin="round" stroke-linecap="round"/>
<line x1="545.4" y1="949.9" x2="742.7" y2="949.9" stroke="#404040" stroke-width="1.6"/>
<line x1="585.1" y1="949.9" x2="585.1" y2="953.9" stroke="#555" stroke-width="1.1"/>
<text x="587.6" y="970.6999999999999" font-size="16.5" text-anchor="middle">10</text>
<line x1="624.5" y1="949.9" x2="624.5" y2="953.9" stroke="#555" stroke-width="1.1"/>
<text x="625.5" y="970.6999999999999" font-size="16.5" text-anchor="middle">9</text>
<line x1="663.9" y1="949.9" x2="663.9" y2="953.9" stroke="#555" stroke-width="1.1"/>
<text x="664.9" y="970.6999999999999" font-size="16.5" text-anchor="middle">8</text>
<line x1="703.3" y1="949.9" x2="703.3" y2="953.9" stroke="#555" stroke-width="1.1"/>
<text x="704.3" y="970.6999999999999" font-size="16.5" text-anchor="middle">7</text>
<line x1="742.7" y1="949.9" x2="742.7" y2="953.9" stroke="#555" stroke-width="1.1"/>
<text x="743.7" y="970.6999999999999" font-size="16.5" text-anchor="middle">6</text>
<text x="548.1999999999999" y="863.5" font-size="21">l)</text>
<text x="104.8" y="999.6" font-size="20.5"><tspan font-size="10.2" dy="-7.6">1</tspan><tspan dx="1.0" dy="7.6">H (ppm)</tspan></text>
<text x="356.0" y="999.6" font-size="20.5"><tspan font-size="10.2" dy="-7.6">1</tspan><tspan dx="1.0" dy="7.6">H (ppm)</tspan></text>
<text x="608.8" y="999.6" font-size="20.5"><tspan font-size="10.2" dy="-7.6">1</tspan><tspan dx="1.0" dy="7.6">H (ppm)</tspan></text>
</g>
</svg>
</body></html>
